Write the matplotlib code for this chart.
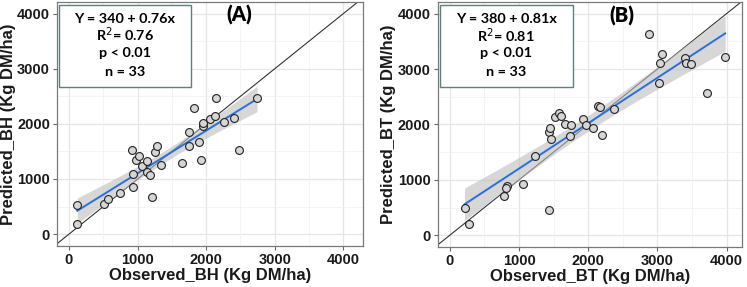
import numpy as np
import matplotlib.pyplot as plt
from matplotlib.patches import Rectangle

# panel A : BH
obs_bh = [121, 121, 510, 564, 744, 919, 938, 928, 977, 1025, 1064, 1137, 1132,
          1176, 1210, 1259, 1283, 1337, 1652, 1750, 1750, 1823, 1895, 1924,
          1954, 1959, 2056, 2124, 2143, 2255, 2406, 2474, 2741]
pred_bh = [532, 181, 544, 628, 749, 1522, 1087, 846, 1353, 1413, 1244, 1329, 1123,
           1075, 664, 1498, 1607, 1256, 1293, 1607, 1860, 2295, 1667, 1341,
           1969, 2017, 2084, 2150, 2464, 2041, 2102, 1534, 2464]

# panel B : BT
obs_bt = [212, 270, 781, 824, 810, 1051, 1234, 1436, 1455, 1465, 1431, 1513, 1576,
          1610, 1667, 1754, 1740, 1928, 1966, 2063, 2140, 2173, 2202, 2366,
          2882, 3022, 3032, 3060, 3402, 3412, 3479, 3715, 3980]
pred_bt = [483, 205, 713, 882, 850, 930, 1438, 1860, 1933, 1740, 459, 2126, 2199,
           2150, 2005, 1981, 1788, 2090, 1981, 1933, 2331, 2319, 1812, 2283,
           3636, 2754, 3105, 3274, 3201, 3105, 3092, 2561, 3213]

stats_a = ["Y = 340 + 0.76x", "R$^2$= 0.76", "p < 0.01", "n = 33"]
stats_b = ["Y = 380 + 0.81x", "R$^2$= 0.81", "p < 0.01", "n = 33"]

ticks = [0, 1000, 2000, 3000, 4000]
minor = [500, 1500, 2500, 3500]


def panel(ax, x, y, xlab, ylab, tag, stats, xlim, ylim, box, tagx):
    x = np.array(x, float)
    y = np.array(y, float)
    ax.set_xlim(*xlim)
    ax.set_ylim(*ylim)
    for v in ticks:
        ax.axvline(v, color='#e6e6e6', lw=0.9, zorder=0)
        ax.axhline(v, color='#e6e6e6', lw=0.9, zorder=0)
    for v in minor:
        ax.axvline(v, color='#f2f2f2', lw=0.6, zorder=0)
        ax.axhline(v, color='#f2f2f2', lw=0.6, zorder=0)
    # 1:1 line
    ax.plot([-1000, 5000], [-1000, 5000], color='#333333', lw=0.8, zorder=1)

    # lm fit + 95% CI
    n = len(x)
    b, a = np.polyfit(x, y, 1)
    xs = np.linspace(x.min(), x.max(), 80)
    res = y - (a + b * x)
    s = np.sqrt(np.sum(res ** 2) / (n - 2))
    se = s * np.sqrt(1 / n + (xs - x.mean()) ** 2 / np.sum((x - x.mean()) ** 2))
    t = 2.04
    ax.fill_between(xs, a + b * xs - t * se, a + b * xs + t * se,
                    color='#bdbdbd', alpha=0.6, lw=0, zorder=2)
    ax.plot(xs, a + b * xs, color='#2a6fdb', lw=1.4, zorder=3)
    ax.scatter(x, y, s=32, facecolor='#d6d6d6', edgecolor='#222222',
               linewidth=0.8, zorder=4)

    ax.set_xticks(ticks)
    ax.set_yticks(ticks)
    for lab in ax.get_xticklabels() + ax.get_yticklabels():
        lab.set_fontweight('bold')
        lab.set_fontsize(10.5)
        lab.set_family('Liberation Sans')
        lab.set_color('#1a1a1a')
    ax.tick_params(length=3, color='#666666', pad=2)
    for sp in ax.spines.values():
        sp.set_color('#7a7a7a')
        sp.set_linewidth(0.9)
    ax.set_xlabel(xlab, fontsize=12, fontweight='bold', family='Liberation Sans',
                  color='#1a1a1a', labelpad=1)
    ax.set_ylabel(ylab, fontsize=12, fontweight='bold', family='Liberation Sans',
                  color='#1a1a1a', labelpad=1)
    ax.text(tagx, 0.945, tag, transform=ax.transAxes, fontsize=14.5,
            fontweight='heavy', family='Lato', ha='center', va='center')
    x0, x1, y0, y1 = box
    ax.add_patch(Rectangle((x0, y0), x1 - x0, y1 - y0, transform=ax.transAxes,
                           facecolor='white', edgecolor='#5f7f80', lw=1.0,
                           zorder=6))
    ys = [0.932, 0.864, 0.790, 0.715]
    for txt, yy in zip(stats, ys):
        ax.text((x0 + x1) / 2, yy, txt, transform=ax.transAxes, fontsize=10.4,
                fontweight='bold', family='Lato', ha='center', va='center',
                zorder=7)


fig = plt.figure(figsize=(7.47, 2.87), dpi=100)
ax1 = fig.add_axes([0.0763, 0.143, 0.410, 0.85])
ax2 = fig.add_axes([0.586, 0.139, 0.407, 0.854])

panel(ax1, obs_bh, pred_bh, "Observed_BH (Kg DM/ha)", "Predicted_BH (Kg DM/ha)",
      "(A)", stats_a, (-175, 4290), (-215, 4210), (0.006, 0.437, 0.652, 0.988), 0.596)
panel(ax2, obs_bt, pred_bt, "Observed_BT (Kg DM/ha)", "Predicted_BT (Kg DM/ha)",
      "(B)", stats_b, (-175, 4220), (-215, 4210), (0.007, 0.444, 0.652, 0.988), 0.605)

fig.savefig("out.png", dpi=100)
